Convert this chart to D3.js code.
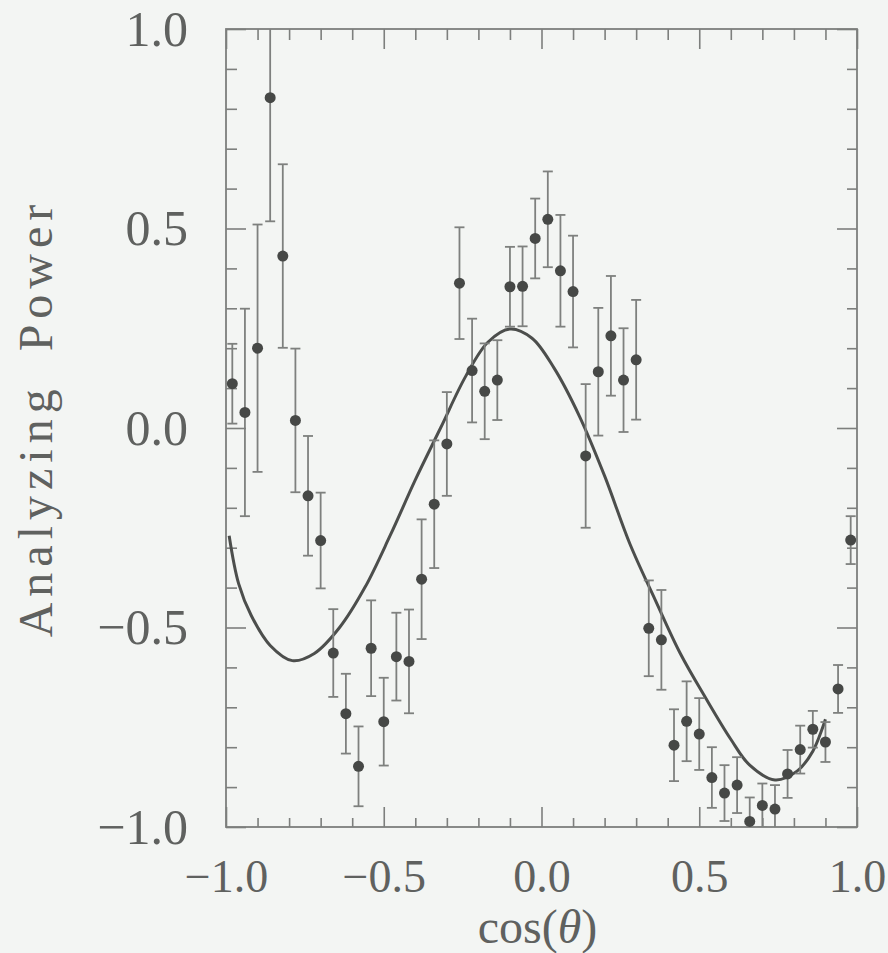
<!DOCTYPE html>
<html>
<head>
<meta charset="utf-8">
<script src="https://cdn.jsdelivr.net/npm/d3@7"></script>
<style>
  html, body { margin: 0; padding: 0; background: #f3f5f3; }
  svg { display: block; }
</style>
</head>
<body>
<svg id="chart" width="888" height="953"></svg>
<script>
// ---- data ----
const cosTheta = [-0.98, -0.94, -0.90, -0.86, -0.82, -0.78, -0.74, -0.70, -0.66, -0.62,
                  -0.58, -0.54, -0.50, -0.46, -0.42, -0.38, -0.34, -0.30, -0.26, -0.22,
                  -0.18, -0.14, -0.10, -0.06, -0.02, 0.02, 0.06, 0.10, 0.14, 0.18,
                  0.22, 0.26, 0.30, 0.34, 0.38, 0.42, 0.46, 0.50, 0.54, 0.58,
                  0.62, 0.66, 0.70, 0.74, 0.78, 0.82, 0.86, 0.90, 0.94, 0.98];
const analyzingPower = [0.111, 0.039, 0.200, 0.828, 0.431, 0.019, -0.170, -0.282, -0.564, -0.716,
                        -0.848, -0.552, -0.736, -0.573, -0.585, -0.379, -0.191, -0.040, 0.363, 0.144,
                        0.092, 0.120, 0.354, 0.355, 0.475, 0.523, 0.394, 0.342, -0.070, 0.141,
                        0.231, 0.120, 0.171, -0.502, -0.531, -0.795, -0.735, -0.767, -0.876, -0.915,
                        -0.895, -0.986, -0.946, -0.955, -0.867, -0.806, -0.755, -0.787, -0.654, -0.281];
const powerError = [0.10, 0.26, 0.31, 0.31, 0.23, 0.18, 0.15, 0.12, 0.11, 0.10,
                    0.10, 0.12, 0.11, 0.11, 0.13, 0.15, 0.16, 0.13, 0.14, 0.13,
                    0.12, 0.10, 0.10, 0.10, 0.10, 0.12, 0.14, 0.14, 0.18, 0.16,
                    0.15, 0.13, 0.15, 0.12, 0.125, 0.09, 0.10, 0.09, 0.076, 0.07,
                    0.07, 0.06, 0.055, 0.06, 0.06, 0.06, 0.046, 0.05, 0.06, 0.06];
// fitted curve
const fitCos   = [-0.99, -0.96, -0.92, -0.86, -0.79, -0.72, -0.64, -0.56, -0.48, -0.40,
                  -0.32, -0.24, -0.17, -0.10, -0.03, 0.04, 0.12, 0.20, 0.28, 0.36,
                  0.44, 0.52, 0.60, 0.66, 0.74, 0.81, 0.86, 0.90];
const fitPower = [-0.27, -0.39, -0.47, -0.545, -0.583, -0.565, -0.50, -0.40, -0.27, -0.13,
                  0.00, 0.13, 0.215, 0.248, 0.225, 0.15, 0.03, -0.12, -0.29, -0.43,
                  -0.565, -0.676, -0.78, -0.845, -0.882, -0.86, -0.81, -0.73];
const majorTicks = [-1.0, -0.5, 0.0, 0.5, 1.0];
const minorTicks = [-0.9, -0.8, -0.7, -0.6, -0.4, -0.3, -0.2, -0.1, 0.1, 0.2, 0.3, 0.4, 0.6, 0.7, 0.8, 0.9];
const xTitle = "cos(θ)";
const yTitle = "Analyzing Power";

// ---- layout ----
const L = 226, R = 857, T = 29, B = 827;
const svg = d3.select("#chart");
const x = d3.scaleLinear().domain([-1, 1]).range([L, R]);
const y = d3.scaleLinear().domain([-1, 1]).range([B, T]);

const frameColor = "#7d7f7d";
const textColor = "#5f615f";
const fontFam = "'Liberation Serif', 'DejaVu Serif', serif";

// clip for error bars
svg.append("defs").append("clipPath").attr("id", "plotclip")
  .append("rect").attr("x", L).attr("y", T).attr("width", R - L).attr("height", B - T);

function styleAxis(size) {
  return g => {
    g.select(".domain").remove();
    g.selectAll(".tick line").attr("stroke", frameColor).attr("stroke-width", 1.6);
    g.selectAll("text").attr("fill", textColor);
    g.attr("font-family", fontFam).attr("font-size", size);
  };
}
const fmt = d3.format(".1f");

// left
svg.append("g").attr("transform", `translate(${L},0)`)
  .call(d3.axisLeft(y).tickValues(majorTicks).tickSizeInner(-20).tickSizeOuter(0).tickPadding(38).tickFormat(fmt))
  .call(styleAxis(50));
svg.append("g").attr("transform", `translate(${L},0)`)
  .call(d3.axisLeft(y).tickValues(minorTicks).tickSizeInner(-11).tickSizeOuter(0).tickFormat(""))
  .call(styleAxis(50));
// right
svg.append("g").attr("transform", `translate(${R},0)`)
  .call(d3.axisRight(y).tickValues(majorTicks).tickSizeInner(-20).tickSizeOuter(0).tickFormat(""))
  .call(styleAxis(50));
svg.append("g").attr("transform", `translate(${R},0)`)
  .call(d3.axisRight(y).tickValues(minorTicks).tickSizeInner(-10).tickSizeOuter(0).tickFormat(""))
  .call(styleAxis(50));
// bottom
svg.append("g").attr("transform", `translate(0,${B})`)
  .call(d3.axisBottom(x).tickValues(majorTicks).tickSizeInner(-20).tickSizeOuter(0).tickPadding(32).tickFormat(fmt))
  .call(styleAxis(46));
svg.append("g").attr("transform", `translate(0,${B})`)
  .call(d3.axisBottom(x).tickValues(minorTicks).tickSizeInner(-9).tickSizeOuter(0).tickFormat(""))
  .call(styleAxis(46));
// top
svg.append("g").attr("transform", `translate(0,${T})`)
  .call(d3.axisTop(x).tickValues(majorTicks).tickSizeInner(-20).tickSizeOuter(0).tickFormat(""))
  .call(styleAxis(50));
svg.append("g").attr("transform", `translate(0,${T})`)
  .call(d3.axisTop(x).tickValues(minorTicks).tickSizeInner(-11).tickSizeOuter(0).tickFormat(""))
  .call(styleAxis(50));

// frame
svg.append("rect").attr("x", L).attr("y", T).attr("width", R - L).attr("height", B - T)
  .attr("fill", "none").attr("stroke", frameColor).attr("stroke-width", 1.8);

// fit curve
const fitData = fitCos.map((c, i) => [c, fitPower[i]]);
svg.append("path").datum(fitData)
  .attr("fill", "none").attr("stroke", "#4c4e4c").attr("stroke-width", 3)
  .attr("d", d3.line().x(d => x(d[0])).y(d => y(d[1])).curve(d3.curveCatmullRom.alpha(0.5)));

// error bars
const pts = cosTheta.map((c, i) => ({ c, v: analyzingPower[i], e: powerError[i] }));
const eb = svg.append("g").attr("clip-path", "url(#plotclip)")
  .attr("stroke", "#7e807e").attr("stroke-width", 1.8);
eb.selectAll("line.v").data(pts).join("line").attr("class", "v")
  .attr("x1", d => x(d.c)).attr("x2", d => x(d.c))
  .attr("y1", d => y(d.v + d.e)).attr("y2", d => y(d.v - d.e));
eb.selectAll("line.t").data(pts).join("line").attr("class", "t")
  .attr("x1", d => x(d.c) - 5).attr("x2", d => x(d.c) + 5)
  .attr("y1", d => y(d.v + d.e)).attr("y2", d => y(d.v + d.e));
eb.selectAll("line.b").data(pts).join("line").attr("class", "b")
  .attr("x1", d => x(d.c) - 5).attr("x2", d => x(d.c) + 5)
  .attr("y1", d => y(d.v - d.e)).attr("y2", d => y(d.v - d.e));

// points
svg.append("g").selectAll("circle").data(pts).join("circle")
  .attr("cx", d => x(d.c)).attr("cy", d => y(d.v)).attr("r", 5.5)
  .attr("fill", "#464846");

// titles
svg.append("text").attr("x", (L + R) / 2 - 4).attr("y", 943)
  .attr("text-anchor", "middle").attr("font-family", fontFam).attr("font-size", 48)
  .attr("fill", textColor)
  .html('cos(<tspan font-style="italic">θ</tspan>)');
svg.append("text").attr("transform", `translate(52,418) rotate(-90)`)
  .attr("text-anchor", "middle").attr("font-family", fontFam).attr("font-size", 48)
  .attr("letter-spacing", 6).attr("word-spacing", 14)
  .attr("fill", textColor).text(yTitle);
</script>
</body>
</html>
